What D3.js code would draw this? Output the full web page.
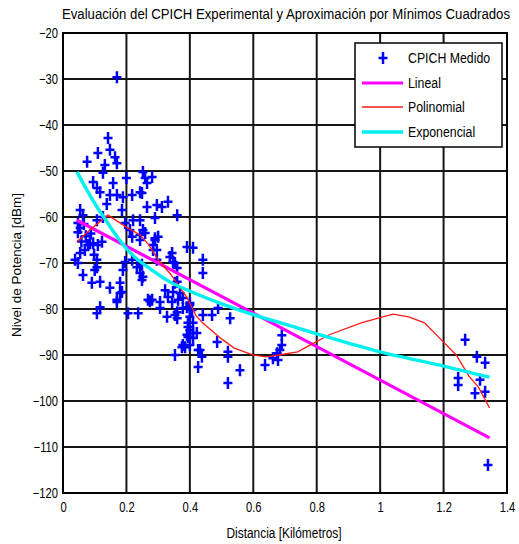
<!DOCTYPE html>
<html>
<head>
<meta charset="utf-8">
<script src="https://cdn.jsdelivr.net/npm/d3@7"></script>
<style>
  html, body { margin: 0; padding: 0; background: #fff; }
  svg { display: block; }
  text { font-family: "Liberation Sans", Arial, sans-serif; fill: #000; }
</style>
</head>
<body>
<svg id="chart" width="519" height="544"></svg>
<script>
// ---------- DATA ----------
const title = "Evaluación del CPICH Experimental y Aproximación por Mínimos Cuadrados";
const xLabel = "Distancia [Kilómetros]";
const yLabel = "Nivel de Potencia [dBm]";
const xTicks = [0, 0.2, 0.4, 0.6, 0.8, 1, 1.2, 1.4];
const yTicks = [-120, -110, -100, -90, -80, -70, -60, -50, -40, -30, -20];
const legendLabels = ["CPICH Medido", "Lineal", "Polinomial", "Exponencial"];

// measured CPICH: [distance km, level dBm]
const medido = [
  [0.17,-29.6],
  [0.142,-42.8],[0.148,-45.4],[0.11,-46.1],[0.076,-48],[0.164,-47],[0.17,-48.3],[0.132,-48.7],[0.126,-50.4],
  [0.252,-50.2],[0.259,-51.5],[0.281,-51.3],[0.265,-52.6],[0.249,-54.8],
  [0.2,-51.5],[0.095,-52.4],[0.107,-53.7],[0.117,-54.6],[0.148,-55.2],[0.17,-55.2],[0.189,-55.7],[0.218,-55.2],[0.243,-54.6],
  [0.186,-58.5],[0.265,-57.8],[0.296,-57.4],[0.312,-57.8],[0.331,-56.7],[0.36,-59.6],[0.29,-60.2],[0.243,-60.7],
  [0.054,-58.5],[0.063,-59.6],[0.047,-61.3],[0.054,-62.4],[0.107,-60.7],[0.126,-60],
  [0.196,-61.3],[0.221,-60.7],[0.211,-62.8],[0.218,-64.3],[0.243,-65],[0.259,-63.5],[0.243,-63.9],
  [0.29,-65],[0.3,-64.3],[0.252,-62.8],[0.29,-64.6],[0.284,-66.1],[0.296,-67.2],[0.284,-67.2],
  [0.095,-65.7],[0.079,-66.1],[0.11,-66.1],[0.085,-65.7],[0.123,-65.4],[0.069,-67.2],[0.054,-67.8],[0.038,-69.3],[0.047,-70],[0.047,-63.3],
  [0.107,-69.3],[0.107,-70.9],[0.1,-71.5],[0.196,-69.8],[0.218,-69.3],[0.189,-71.5],[0.233,-70.9],[0.243,-72.2],[0.249,-73.7],[0.252,-73],[0.249,-70.4],
  [0.296,-69.3],[0.337,-68.7],[0.353,-70],[0.36,-71.1],[0.344,-67.8],[0.347,-69.8],
  [0.391,-66.5],[0.41,-66.7],[0.441,-69.3],[0.441,-72.2],
  [0.063,-72.6],[0.091,-74.3],[0.117,-74.1],[0.148,-75.4],[0.18,-74.3],[0.186,-76.3],[0.18,-76.5],[0.17,-78],[0.17,-78.5],
  [0.117,-79.6],[0.107,-80.9],[0.205,-80.9],[0.237,-80.9],[0.268,-78],[0.306,-78.5],[0.306,-79.8],[0.281,-78],[0.274,-78.3],
  [0.322,-75.9],[0.331,-77.4],[0.344,-78.5],[0.347,-76.3],[0.353,-74.3],[0.36,-74.1],[0.363,-78],[0.378,-77.6],[0.369,-76.5],
  [0.36,-80.7],[0.391,-79.6],[0.378,-79.8],[0.4,-79.1],[0.4,-78.7],[0.407,-80.2],
  [0.328,-81.7],[0.353,-81.3],[0.36,-82],[0.4,-81.7],[0.41,-83],[0.394,-83],[0.394,-83.9],[0.4,-84.6],[0.41,-85.2],[0.391,-85.6],[0.41,-86.3],[0.394,-86.1],[0.4,-87.8],
  [0.378,-87.8],[0.375,-88.3],[0.385,-88.3],[0.422,-85.2],[0.426,-88.9],[0.432,-88.9],[0.438,-90.4],[0.426,-92.6],[0.353,-90],
  [0.441,-81.3],[0.47,-81.3],[0.489,-79.8],[0.486,-87.2],[0.527,-82],
  [0.52,-89.3],[0.52,-90.4],[0.558,-93.3],[0.52,-96.1],
  [0.637,-92.2],[0.675,-89.6],[0.678,-91.1],[0.662,-90.7],[0.69,-85.7],[0.69,-87.8],[0.684,-88.9],
  [0.066,-61.5],[0.072,-64.2],[0.088,-63.6],[0.058,-65.3],[0.098,-68.2],[0.138,-57.2],[0.158,-52.6],
  [1.268,-86.7],[1.305,-90.4],[1.331,-91.7],[1.246,-95],[1.246,-96.5],[1.315,-95.4],[1.299,-98.3],[1.331,-98],[1.34,-113.9]
];

// fitted curves
const linealX = [0.044, 0.6, 1.345];
const linealY = [-60.7, -80.9, -108];

const polinomialX = [0.044,0.09,0.142,0.2,0.243,0.27,0.3,0.34,0.39,0.42,0.44,0.5,0.54,0.6,0.64,0.68,0.74,0.78,0.84,0.94,1.04,1.09,1.14,1.2,1.24,1.28,1.31,1.345];
const polinomialY = [-65.4,-62.5,-59.6,-62.2,-63.9,-66,-69.3,-72.5,-77.4,-81.5,-83,-86.5,-88.5,-90,-90.4,-90,-89.3,-87.8,-85.6,-83,-81.1,-81.7,-83,-87.2,-90,-94.6,-97,-101.5];

const exponencialX = [0.044,0.075,0.107,0.139,0.174,0.221,0.274,0.337,0.41,0.49,0.59,0.7,0.8,0.9,1.0,1.1,1.2,1.3,1.345];
const exponencialY = [-50.2,-54.1,-57.8,-61.1,-64.6,-68.4,-71.2,-74.1,-76.4,-78.6,-81,-83.3,-85.4,-87.4,-89.3,-90.9,-92.4,-94.1,-94.8];

// ---------- LAYOUT ----------
const svg = d3.select("#chart");
const L = 63, R = 507, T = 33, B = 493;
const x = d3.scaleLinear().domain([0, 1.4]).range([L, R]);
const y = d3.scaleLinear().domain([-120, -20]).range([B, T]);

function condense(sel, f) {
  sel.each(function() {
    const w = this.getComputedTextLength();
    d3.select(this).attr("textLength", w * f).attr("lengthAdjust", "spacingAndGlyphs");
  });
}

// grid
const gridColor = "#151515";
svg.append("g").selectAll("line.gx").data(xTicks).join("line")
  .attr("x1", d => x(d)).attr("x2", d => x(d)).attr("y1", T).attr("y2", B)
  .attr("stroke", gridColor).attr("stroke-width", 2);
svg.append("g").selectAll("line.gy").data(yTicks).join("line")
  .attr("y1", d => y(d)).attr("y2", d => y(d)).attr("x1", L).attr("x2", R)
  .attr("stroke", gridColor).attr("stroke-width", 2);

// axes (labels only)
const xAxis = svg.append("g").attr("transform", `translate(0,${B})`)
  .call(d3.axisBottom(x).tickValues(xTicks).tickFormat(d3.format("~g")).tickSize(0).tickPadding(10));
const yAxis = svg.append("g").attr("transform", `translate(${L},0)`)
  .call(d3.axisLeft(y).tickValues(yTicks).tickFormat(d => d3.format("~g")(d)).tickSize(0).tickPadding(5));
[xAxis, yAxis].forEach(a => {
  a.select(".domain").remove();
  a.selectAll("text").attr("font-size", 14).attr("fill", "#000")
    .style("font-family", '"Liberation Sans", Arial, sans-serif');
});
xAxis.selectAll("text").attr("dy", "0.71em").attr("y", 9);
condense(xAxis.selectAll("text"), 0.8);
condense(yAxis.selectAll("text"), 0.8);

// scatter markers
const mk = (px, py) => `M${px},${py-6}V${py+6}M${px-4.5},${py}H${px+4.5}`;
svg.append("g").selectAll("path").data(medido).join("path")
  .attr("d", d => mk(x(d[0]), y(d[1])))
  .attr("stroke", "#0000ff").attr("stroke-width", 2.5).attr("fill", "none");

// lines
const line = d3.line().x(d => x(d[0])).y(d => y(d[1]));
const zip = (a, b) => a.map((v, i) => [v, b[i]]);
svg.append("path").datum(zip(linealX, linealY)).attr("d", line)
  .attr("fill", "none").attr("stroke", "#ff00ff").attr("stroke-width", 3.2);
svg.append("path").datum(zip(polinomialX, polinomialY)).attr("d", line)
  .attr("fill", "none").attr("stroke", "#ff1a1a").attr("stroke-width", 1.3);
svg.append("path").datum(zip(exponencialX, exponencialY)).attr("d", d3.line().curve(d3.curveMonotoneX).x(d => x(d[0])).y(d => y(d[1])))
  .attr("fill", "none").attr("stroke", "#00f0f0").attr("stroke-width", 3.4);

// frame
svg.append("rect").attr("x", L).attr("y", T).attr("width", R - L).attr("height", B - T)
  .attr("fill", "none").attr("stroke", "#000").attr("stroke-width", 2);

// title
const tt = svg.append("text").attr("x", (L + R) / 2 + 1).attr("y", 19)
  .attr("text-anchor", "middle").attr("font-size", 12.5).text(title);
tt.attr("textLength", 448).attr("lengthAdjust", "spacingAndGlyphs").attr("transform", "translate(286,19) scale(1,1.1) translate(-286,-19)");

// x label
const xl = svg.append("text").attr("x", 284).attr("y", 538)
  .attr("text-anchor", "middle").attr("font-size", 14).text(xLabel);
condense(xl, 0.85);

// y label
svg.append("text").attr("transform", `translate(21,265) rotate(-90)`)
  .attr("text-anchor", "middle").attr("font-size", 13.5).text(yLabel);

// legend
const lg = svg.append("g");
lg.append("rect").attr("x", 355).attr("y", 43).attr("width", 147).attr("height", 104)
  .attr("fill", "#fff").attr("stroke", "#000").attr("stroke-width", 1.5);
const ly = [58, 83, 107, 132];
lg.append("path").attr("d", mk(383, ly[0])).attr("stroke", "#0000ff").attr("stroke-width", 2.5);
const lstyles = [null, ["#ff00ff", 3.2], ["#ff1a1a", 1.3], ["#00f0f0", 3.4]];
lstyles.forEach((s, i) => {
  if (!s) return;
  lg.append("line").attr("x1", 362).attr("x2", 403).attr("y1", ly[i]).attr("y2", ly[i])
    .attr("stroke", s[0]).attr("stroke-width", s[1]);
});
const lt = lg.selectAll("text").data(legendLabels).join("text")
  .attr("x", 408).attr("y", (d, i) => ly[i] + 5).attr("font-size", 14).text(d => d);
condense(lt, 0.88);
</script>
</body>
</html>
